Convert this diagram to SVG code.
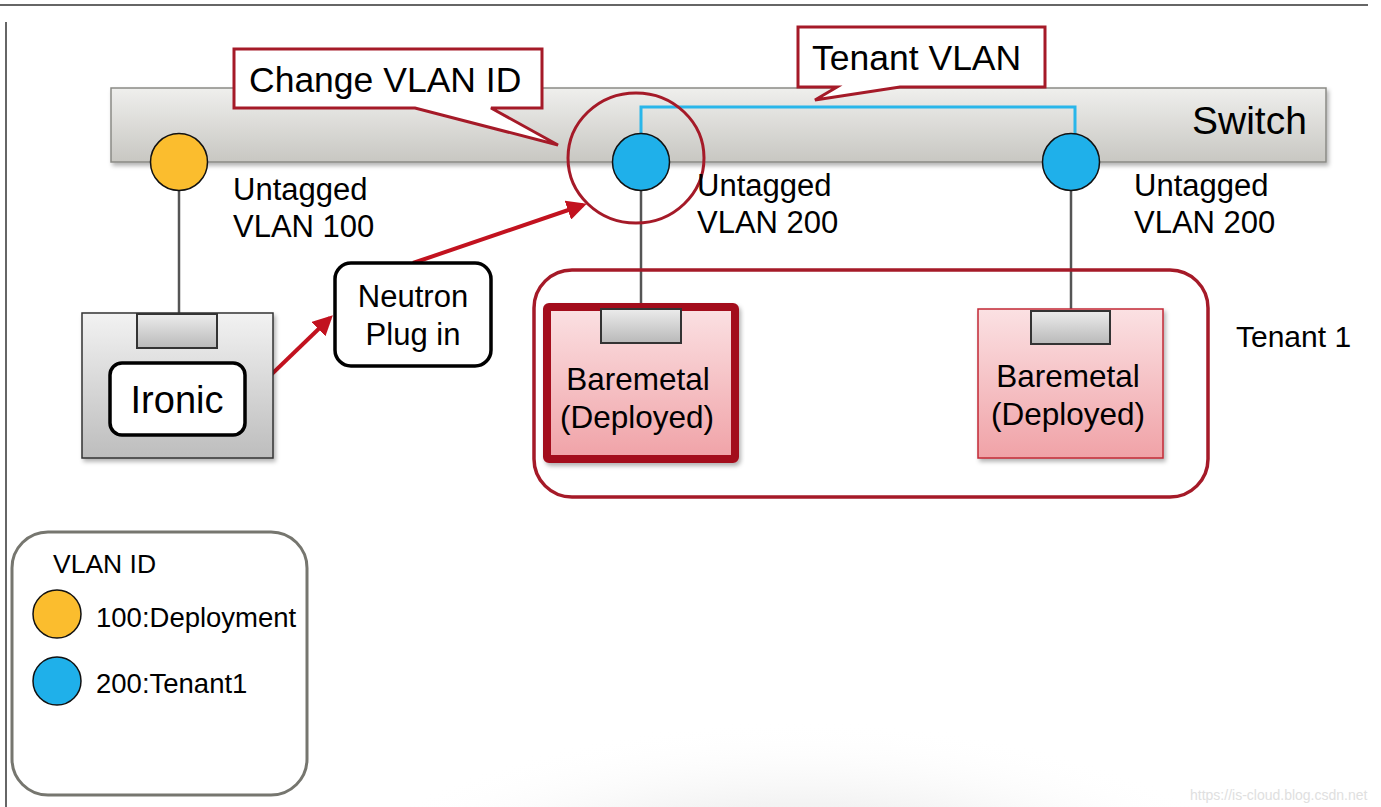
<svg xmlns="http://www.w3.org/2000/svg" width="1381" height="807" viewBox="0 0 1381 807">
<style>
  text { font-family: "Liberation Sans", Arial, sans-serif; fill: #000; }
  .port { stroke: #111; stroke-width: 1.5; }
  .yel { fill: #fbbd2e; }
  .blu { fill: #1fb0ea; }
  .wire { stroke: #555; stroke-width: 2.5; fill: none; }
  .callout { fill: #fff; stroke: #a51a28; stroke-width: 3; stroke-linejoin: miter; }
  .rbox { fill: #fff; stroke: #000; stroke-width: 3.5; }
  .tab { fill: url(#gTab); stroke: #333; stroke-width: 2; }
  .arrow { stroke: #c2121f; stroke-width: 4; fill: none; marker-end: url(#ah); }
  .lbl { font-size: 31px; }
</style>
<defs>
  <linearGradient id="gSwitch" x1="0" y1="0" x2="0" y2="1">
    <stop offset="0" stop-color="#efefed"/>
    <stop offset="1" stop-color="#c8c7c2"/>
  </linearGradient>
  <linearGradient id="gGray" x1="0" y1="0" x2="0" y2="1">
    <stop offset="0" stop-color="#f2f2f2"/>
    <stop offset="1" stop-color="#bdbdbd"/>
  </linearGradient>
  <linearGradient id="gTab" x1="0" y1="0" x2="0" y2="1">
    <stop offset="0" stop-color="#ececec"/>
    <stop offset="1" stop-color="#b9b9b9"/>
  </linearGradient>
  <linearGradient id="gPink" x1="0" y1="0" x2="0" y2="1">
    <stop offset="0" stop-color="#fbe1e3"/>
    <stop offset="1" stop-color="#f0a2a7"/>
  </linearGradient>
  <radialGradient id="gFloor" cx="800" cy="1000" r="560" gradientUnits="userSpaceOnUse" gradientTransform="translate(800 1000) scale(1 0.5) translate(-800 -1000)">
    <stop offset="0" stop-color="#e6e6e6"/>
    <stop offset="0.7" stop-color="#f3f3f3"/>
    <stop offset="1" stop-color="#ffffff" stop-opacity="0"/>
  </radialGradient>
  <filter id="shadow" x="-5%" y="-10%" width="110%" height="130%">
    <feDropShadow dx="2" dy="3" stdDeviation="2" flood-color="#000" flood-opacity="0.3"/>
  </filter>
  <marker id="ah" markerWidth="5" markerHeight="5" refX="4" refY="2.5" orient="auto" markerUnits="strokeWidth">
    <path d="M0,0 L5,2.5 L0,5 Z" fill="#c2121f"/>
  </marker>
</defs>

<rect x="0" y="0" width="1381" height="807" fill="#fff"/>
<rect x="240" y="680" width="1141" height="127" fill="url(#gFloor)"/>

<!-- frame lines -->
<line x1="0" y1="5" x2="1368" y2="5" stroke="#333" stroke-width="1.5"/>
<line x1="6" y1="22" x2="6" y2="807" stroke="#333" stroke-width="1.5"/>

<!-- switch -->
<g id="switch">
  <rect x="111" y="88" width="1215" height="74" fill="url(#gSwitch)" stroke="#8a8a85" stroke-width="1.5" filter="url(#shadow)"/>
  <text x="1192" y="134" font-size="39">Switch</text>
</g>

<!-- connectors -->
<g id="connectors">
  <polyline points="641,162 641,107 1075,107 1075,162" stroke="#29b6ea" stroke-width="3" fill="none"/>
  <line class="wire" x1="179" y1="190" x2="179" y2="314"/>
  <line class="wire" x1="641" y1="190" x2="641" y2="310"/>
  <line class="wire" x1="1071" y1="190" x2="1071" y2="311"/>
  <line class="arrow" x1="245" y1="400" x2="330" y2="318"/>
  <line class="arrow" x1="413" y1="263" x2="583" y2="205"/>
</g>

<!-- callouts -->
<g id="callout-change">
  <path class="callout" d="M234,49 H542 V108 H491 L558,145 L415,108 H234 Z"/>
  <text x="249" y="92" font-size="35.5">Change VLAN ID</text>
</g>
<g id="callout-tenant">
  <path class="callout" d="M798,27 H1045 V87 H900 L815,100 L837,87 H798 Z"/>
  <text x="812" y="70" font-size="35.5">Tenant VLAN</text>
</g>

<!-- ports -->
<g id="port-100">
  <circle class="port yel" cx="179" cy="162" r="28.5"/>
  <text class="lbl" x="233" y="200">Untagged</text>
  <text class="lbl" x="233" y="237">VLAN 100</text>
</g>
<g id="port-200a">
  <circle class="port blu" cx="641" cy="162" r="28.5"/>
  <ellipse cx="636" cy="158" rx="68" ry="65" fill="none" stroke="#a51a28" stroke-width="3"/>
  <text class="lbl" x="697" y="196">Untagged</text>
  <text class="lbl" x="697" y="233">VLAN 200</text>
</g>
<g id="port-200b">
  <circle class="port blu" cx="1071" cy="162" r="28.5"/>
  <text class="lbl" x="1134" y="196">Untagged</text>
  <text class="lbl" x="1134" y="233">VLAN 200</text>
</g>

<!-- ironic -->
<g id="ironic">
  <rect x="82" y="313" width="191" height="145" fill="url(#gGray)" stroke="#333" stroke-width="1.5" filter="url(#shadow)"/>
  <rect class="tab" x="137" y="314" width="80" height="34"/>
  <rect class="rbox" x="110" y="363" width="135" height="72" rx="12"/>
  <text x="177" y="413" font-size="38" text-anchor="middle">Ironic</text>
</g>

<!-- neutron -->
<g id="neutron">
  <rect class="rbox" x="335" y="263" width="156" height="103" rx="16"/>
  <text x="413" y="307" font-size="31" text-anchor="middle">Neutron</text>
  <text x="413" y="345" font-size="31" text-anchor="middle">Plug in</text>
</g>

<!-- tenant group -->
<g id="tenant1">
  <rect x="534" y="270" width="674" height="227" rx="38" fill="none" stroke="#a51a28" stroke-width="3.5"/>
  <text x="1236" y="347" font-size="30">Tenant 1</text>
</g>

<g id="baremetal1">
  <rect x="547" y="307" width="188" height="152" rx="2" fill="url(#gPink)" stroke="#a30f1e" stroke-width="8" filter="url(#shadow)"/>
  <rect class="tab" x="601" y="309" width="80" height="34"/>
  <text x="638" y="390" font-size="31.5" text-anchor="middle">Baremetal</text>
  <text x="637" y="428" font-size="31.5" text-anchor="middle">(Deployed)</text>
</g>

<g id="baremetal2">
  <rect x="978" y="309" width="185" height="149" fill="url(#gPink)" stroke="#c22a35" stroke-width="1.5" filter="url(#shadow)"/>
  <rect class="tab" x="1031" y="311" width="79" height="33"/>
  <text x="1068" y="387" font-size="31.5" text-anchor="middle">Baremetal</text>
  <text x="1068" y="425" font-size="31.5" text-anchor="middle">(Deployed)</text>
</g>

<!-- legend -->
<g id="legend">
  <rect x="12" y="532" width="295" height="263" rx="36" fill="#fff" stroke="#76766f" stroke-width="3"/>
  <text x="53" y="573" font-size="26.5">VLAN ID</text>
  <circle class="port yel" cx="57" cy="614" r="24"/>
  <text x="96" y="627" font-size="27.5">100:Deployment</text>
  <circle class="port blu" cx="57" cy="681" r="24"/>
  <text x="96" y="693" font-size="27.5">200:Tenant1</text>
</g>

<text x="1190" y="800" font-size="14" style="fill:#e0e0e0">https://is-cloud.blog.csdn.net</text>
</svg>
